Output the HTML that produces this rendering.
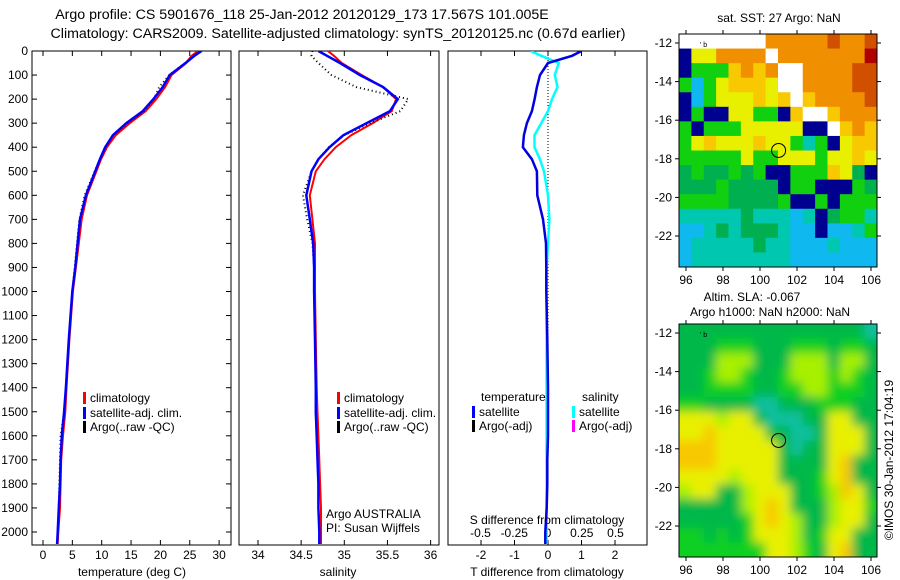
<!DOCTYPE html>
<html><head><meta charset="utf-8">
<style>
body{margin:0;background:#fff;}
svg{display:block;font-family:"Liberation Sans","DejaVu Sans",sans-serif;}
</style></head>
<body>
<svg id="fig" width="900" height="580" viewBox="0 0 900 580" xmlns="http://www.w3.org/2000/svg">
<defs>
<clipPath id="c1"><rect x="32" y="51" width="199" height="494"/></clipPath>
<clipPath id="c2"><rect x="239" y="51" width="200" height="494"/></clipPath>
<clipPath id="c3"><rect x="448" y="51" width="199" height="494"/></clipPath>
<clipPath id="cm1"><rect x="679" y="34" width="198" height="233"/></clipPath>
<clipPath id="cm2"><rect x="679" y="324" width="198" height="233"/></clipPath>
<filter id="blur" x="-5%" y="-5%" width="110%" height="110%"><feGaussianBlur stdDeviation="5"/></filter>
</defs>
<text x="302" y="19" font-size="14.2" text-anchor="middle">Argo profile: CS 5901676_118 25-Jan-2012 20120129_173 17.567S 101.005E</text>
<text x="338" y="38" font-size="14.2" text-anchor="middle">Climatology: CARS2009. Satellite-adjusted climatology: synTS_20120125.nc (0.67d earlier)</text>
<g id="g1"></g>
<g id="g2"></g>
<g id="g3"></g>
<g id="m1"></g>
<g id="m2"></g>
<text x="779" y="22" font-size="12" text-anchor="middle">sat. SST: 27 Argo: NaN</text>
<text x="752" y="301" font-size="12" text-anchor="middle">Altim. SLA: -0.067</text>
<text x="770" y="316" font-size="12" text-anchor="middle">Argo h1000: NaN h2000: NaN</text>
<text transform="translate(893,460) rotate(-90)" font-size="12" text-anchor="middle">©IMOS 30-Jan-2012 17:04:19</text>
</svg>
<script>
// ---------- data ----------
const depths     = [0,20,50,100,150,200,250,300,350,400,450,500,600,700,800,900,1000,1200,1400,1500,1600,1700,1800,1900,2000,2050];
const tempSat    = [27.0,25.8,24.3,21.6,20.4,18.8,17.0,14.2,11.9,10.6,9.7,8.9,7.3,6.3,5.9,5.5,5.0,4.4,3.9,3.6,3.2,3.0,2.9,2.7,2.5,2.4];
const tempClim   = [26.4,25.3,24.4,21.9,20.8,19.3,17.5,14.8,12.4,10.9,9.9,9.1,7.5,6.6,6.1,5.6,5.1,4.5,4.0,3.8,3.4,3.1,3.0,2.9,2.6,2.5];
const tempArgo   = [26.9,25.6,24.2,21.5,19.8,18.9,17.2,14.4,12.0,10.6,9.7,8.8,7.1,6.2,5.8,5.4,5.0,4.4,3.9,3.6,3.0,2.9,2.8,2.7,2.5,2.4];
const salSat     = [34.70,34.80,34.95,35.18,35.45,35.62,35.53,35.26,34.99,34.83,34.70,34.62,34.56,34.60,34.64,34.65,34.65,34.66,34.67,34.67,34.68,34.69,34.70,34.70,34.71,34.71];
const salClim    = [34.81,34.88,34.97,35.20,35.45,35.60,35.55,35.33,35.08,34.90,34.77,34.67,34.60,34.63,34.66,34.66,34.66,34.67,34.68,34.69,34.70,34.71,34.72,34.73,34.73,34.73];
const salArgo    = [34.63,34.62,34.70,34.85,35.14,35.74,35.65,35.30,35.00,34.82,34.70,34.62,34.52,34.57,34.63,34.65,34.65,34.66,34.67,34.67,34.68,34.69,34.70,34.70,34.71,34.71];
const tDiff      = [1.0,0.72,0.0,-0.24,-0.33,-0.40,-0.48,-0.63,-0.72,-0.75,-0.48,-0.33,-0.32,-0.15,-0.06,-0.05,-0.05,-0.02,0.0,0.0,0.0,-0.02,-0.02,-0.04,-0.08,-0.08];
const sDiff      = [-0.13,-0.05,0.08,0.05,0.07,0.03,0.0,-0.05,-0.10,-0.10,-0.06,-0.03,0.0,0.01,0.0,-0.01,-0.01,-0.01,-0.01,-0.01,-0.01,-0.01,-0.01,-0.01,-0.01,-0.01];
const depthTicks = [0,100,200,300,400,500,600,700,800,900,1000,1100,1200,1300,1400,1500,1600,1700,1800,1900,2000];
const tempTicks  = [0,5,10,15,20,25,30];
const salTicks   = [34,34.5,35,35.5,36];
const salTickLabels = ["34","34.5","35","35.5","36"];
const tdTicks    = [-2,-1,0,1,2];
const sdTicks    = [-0.5,-0.25,0,0.25,0.5];
const sdTickLabels = ["-0.5","-0.25","0","0.25","0.5"];
const lonTicks   = [96,98,100,102,104,106];
const latTicks   = [-12,-14,-16,-18,-20,-22];
const sstGrid = [
"wwwwwwwoooooroor","nyyoooowoooooooR","ngggYoYowwoooorr","gbgyYYYywwoooorr",
"nbgyyyYyYwYoooor","ngnnyyggnYwwYooo","gngggyyyyynnwYoY","gyYyyyYyygcgnyYY",
"gggggyggyyygyyYy","GgGGgGgnngggYyGn","GGGgGGGGnggnnngG","ggggGGGGgnngnggg",
"cccccGcccbcnGggc","bbcGcGGGcbbnbbcg","bcccccGccbbbcbbb","bccccccccbbbbbbb"];
const slaGrid = [
"GGGGGGGGGGGGGGGc","GGGgggGGGgggGggG","GGGlllGGGlllGllG","GGgllgGGglllglgG",
"GGggggGGggllgggG","ggGGGGccGGGgggGG","yyylyyGcccGGyyGG","yyYyyyyGGccGyyyG",
"YYYyyyyyGcGGyyyG","YYYyyyyyGGGGyYGG","yyyylyyyGGGgyYGG","lyyGGlyyyGGglYyG",
"GGGGGlyYyGGGlyyg","GGGGGgyYylGGlyyG","ggGgGgyyylGgyyGG","gggggggyylgGyYGG"];
const sstColors = {w:"#ffffff",n:"#000090",b:"#10b8f0",c:"#00c8b0",G:"#00b050",g:"#10d010",y:"#e8f000",Y:"#f8c800",o:"#f09000",r:"#d05000",R:"#b00000"};
const slaColors = {G:"#00b848",g:"#10d020",l:"#a8f000",y:"#e8f000",Y:"#f8c800",c:"#10c0a0"};

// ---------- helpers ----------
const NS="http://www.w3.org/2000/svg";
function mk(parent,tag,attrs){const e=document.createElementNS(NS,tag);for(const k in attrs)e.setAttribute(k,attrs[k]);parent.appendChild(e);return e;}
const Y0=51, YS=0.2405;
const yD = d => Y0 + d*YS;
const xT = t => 43 + t*5.87;
const xS = s => 258 + (s-34)*86.3;
const xTd = v => 548 + v*33.5;
const xSd = v => 548 + v*135;
function path(vals,xf){return vals.map((v,i)=>(i?"L":"M")+xf(v).toFixed(1)+","+yD(depths[i]).toFixed(1)).join("");}

function frame(g,x,w,name){
  const r=mk(g,"rect",{x:x,y:51,width:w,height:494,fill:"none",stroke:"#000","stroke-width":1});
  
  
}
function xticks(g,ticks,labels,xf,y,name){
  ticks.forEach((t,i)=>{
    const x=xf(t);
    mk(g,"line",{x1:x,x2:x,y1:545,y2:540,stroke:"#000"});
    mk(g,"line",{x1:x,x2:x,y1:51,y2:56,stroke:"#000"});
    const tx=mk(g,"text",{x:x,y:y,"font-size":12,"text-anchor":"middle"});
    tx.textContent=labels[i];
    
    
  });
}
function line(g,vals,xf,color,w,name,clip,dash){
  const p=mk(g,"path",{d:path(vals,xf),fill:"none",stroke:color,"stroke-width":w,"clip-path":"url(#"+clip+")"});
  if(dash)p.setAttribute("stroke-dasharray",dash);
  
  
}
function legend(g,x,y,color,label,name){
  mk(g,"rect",{x:x,y:y-10,width:3,height:12,fill:color});
  const t=mk(g,"text",{x:x+7,y:y,"font-size":12});
  t.textContent=label;
  
  
}

// ---------- panel 1 ----------
const g1=document.getElementById("g1");
frame(g1,32,199,"temperature-plot-frame");
depthTicks.forEach(d=>{
  mk(g1,"line",{x1:32,x2:37,y1:yD(d),y2:yD(d),stroke:"#000"});
  mk(g1,"line",{x1:231,x2:226,y1:yD(d),y2:yD(d),stroke:"#000"});
  const t=mk(g1,"text",{x:28,y:yD(d)+4,"font-size":12,"text-anchor":"end"});
  t.textContent=d;
  
  
});
xticks(g1,tempTicks,tempTicks.map(String),xT,559,"temperature-tick-label");
line(g1,tempClim,xT,"#ff0000",2,"temperature-climatology-line","c1");
line(g1,tempArgo,xT,"#000000",2,"temperature-argo-line","c1","1 3");
line(g1,tempSat,xT,"#0000ff",2.5,"temperature-satellite-line","c1");
legend(g1,83,402,"#ff0000","climatology","legend-climatology");
legend(g1,83,417,"#0000ff","satellite-adj. clim.","legend-satellite");
legend(g1,83,431,"#000000","Argo(..raw -QC)","legend-argo");
let t=mk(g1,"text",{x:132,y:576,"font-size":12,"text-anchor":"middle"});t.textContent="temperature (deg C)";



// ---------- panel 2 ----------
const g2=document.getElementById("g2");
frame(g2,239,200,"salinity-plot-frame");
xticks(g2,salTicks,salTickLabels,xS,559,"salinity-tick-label");
line(g2,salClim,xS,"#ff0000",2,"salinity-climatology-line","c2");
line(g2,salArgo,xS,"#000000",2,"salinity-argo-line","c2","1 3");
line(g2,salSat,xS,"#0000ff",2.5,"salinity-satellite-line","c2");
legend(g2,337,402,"#ff0000","climatology","legend-climatology-sal");
legend(g2,337,417,"#0000ff","satellite-adj. clim.","legend-satellite-sal");
legend(g2,337,431,"#000000","Argo(..raw -QC)","legend-argo-sal");
t=mk(g2,"text",{x:326,y:518,"font-size":12});t.textContent="Argo AUSTRALIA";


t=mk(g2,"text",{x:326,y:532,"font-size":12});t.textContent="PI: Susan Wijffels";


t=mk(g2,"text",{x:338,y:576,"font-size":12,"text-anchor":"middle"});t.textContent="salinity";



// ---------- panel 3 ----------
const g3=document.getElementById("g3");
frame(g3,448,199,"difference-plot-frame");
xticks(g3,tdTicks,tdTicks.map(String),xTd,559,"t-diff-tick-label");
sdTicks.forEach((v,i)=>{
  const x=xSd(v);
  const tx=mk(g3,"text",{x:x,y:537,"font-size":12,"text-anchor":"middle"});
  tx.textContent=sdTickLabels[i];
  
  
});
mk(g3,"line",{x1:548,x2:548,y1:51,y2:400,stroke:"#000","stroke-dasharray":"1 2"});
line(g3,sDiff,xSd,"#00ffff",2.5,"salinity-difference-line","c3");
line(g3,tDiff,xTd,"#0000e0",2.5,"temperature-difference-line","c3");
t=mk(g3,"text",{x:481,y:401,"font-size":12});t.textContent="temperature";


t=mk(g3,"text",{x:582,y:401,"font-size":12});t.textContent="salinity";


legend(g3,472,416,"#0000ff","satellite","legend-t-satellite");
legend(g3,472,430,"#000000","Argo(-adj)","legend-t-argo");
legend(g3,572,416,"#00ffff","satellite","legend-s-satellite");
legend(g3,572,430,"#ff00ff","Argo(-adj)","legend-s-argo");
t=mk(g3,"text",{x:547,y:524,"font-size":12,"text-anchor":"middle"});t.textContent="S difference from climatology";


t=mk(g3,"text",{x:547,y:576,"font-size":12,"text-anchor":"middle"});t.textContent="T difference from climatology";



// ---------- maps ----------
function map(gid,grid,colors,top,clip,blur,name){
  const g=document.getElementById(gid);
  const cw=198/16, ch=233/16;
  const cells=mk(g,"g",{"clip-path":"url(#"+clip+")"});
  const inner=mk(cells,"g",blur?{filter:"url(#blur)"}:{});
  grid.forEach((row,r)=>{
    for(let c=0;c<16;c++){
      const x0 = 679 + c*cw - (blur && c===0 ? 10 : 0);
      const y0 = top + r*ch - (blur && r===0 ? 10 : 0);
      const w = cw + 0.6 + (blur && (c===0||c===15) ? 10 : 0);
      const h = ch + 0.6 + (blur && (r===0||r===15) ? 10 : 0);
      const cell=mk(inner,"rect",{x:x0,y:y0,width:w,height:h,fill:colors[row[c]]});
      
      
    }
  });
  const fr=mk(g,"rect",{x:679,y:top,width:198,height:233,fill:"none",stroke:"#000"});
  
  
  const xLon=l=>686+(l-96)*18.5, yLat=l=>top+9+(-12-l)*19.3;
  lonTicks.forEach(l=>{
    mk(g,"line",{x1:xLon(l),x2:xLon(l),y1:top,y2:top-4,stroke:"#000"});
    mk(g,"line",{x1:xLon(l),x2:xLon(l),y1:top+233,y2:top+237,stroke:"#000"});
    const tx=mk(g,"text",{x:xLon(l),y:top+250,"font-size":12,"text-anchor":"middle"});
    tx.textContent=l;
    
    
  });
  latTicks.forEach(l=>{
    mk(g,"line",{x1:679,x2:675,y1:yLat(l),y2:yLat(l),stroke:"#000"});
    mk(g,"line",{x1:877,x2:881,y1:yLat(l),y2:yLat(l),stroke:"#000"});
    const tx=mk(g,"text",{x:672,y:yLat(l)+4,"font-size":12,"text-anchor":"end"});
    tx.textContent=l;
    
    
  });
  const ci=mk(g,"circle",{cx:xLon(101.005),cy:yLat(-17.567),r:7,fill:"none",stroke:"#000","stroke-width":1});
  
  
  const b=mk(g,"text",{x:700,y:top+13,"font-size":7});b.textContent="' b";
  
  
}
map("m1",sstGrid,sstColors,34,"cm1",false,"sst-map");
map("m2",slaGrid,slaColors,324,"cm2",true,"sla-map");
</script>
</body></html>
